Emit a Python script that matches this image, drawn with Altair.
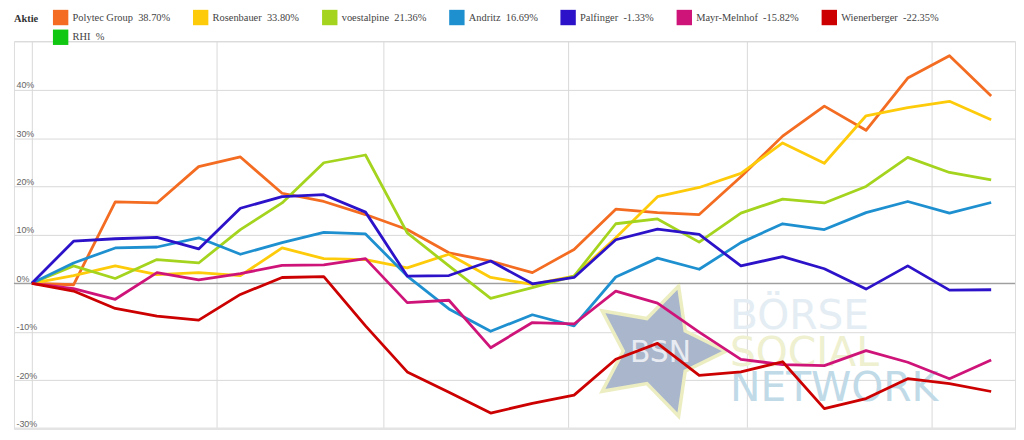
import altair as alt
import pandas as pd

# ---- data ----
dates = ["2017-01-01", "2017-01-08", "2017-01-15", "2017-01-22", "2017-01-29",
         "2017-02-05", "2017-02-12", "2017-02-19", "2017-02-26", "2017-03-05",
         "2017-03-12", "2017-03-19", "2017-03-26", "2017-04-02", "2017-04-09",
         "2017-04-16", "2017-04-23", "2017-04-30", "2017-05-07", "2017-05-14",
         "2017-05-21", "2017-05-28", "2017-06-04", "2017-06-11"]

names = ["Polytec Group", "Rosenbauer", "voestalpine", "Andritz",
         "Palfinger", "Mayr-Melnhof", "Wienerberger", "RHI"]
perf = ["38.70", "33.80", "21.36", "16.69", "-1.33", "-15.82", "-22.35", ""]
colors = ["#f36c21", "#fecb0a", "#a4d41e", "#1e90d0",
          "#2c12c8", "#cf1479", "#cc0000", "#11c711"]

polytec = [0, -0.3, 16.8, 16.6, 24.1, 26.1, 18.6, 16.9, 14.2, 11.1, 6.3, 4.6,
           2.2, 7.0, 15.3, 14.6, 14.2, 22.0, 30.4, 36.6, 31.6, 42.4, 47.0, 38.7]
rosenbauer = [0, 1.6, 3.6, 1.8, 2.2, 1.6, 7.3, 5.1, 4.9, 3.2, 6.0, 1.2,
              -0.2, 1.5, 9.4, 17.9, 19.8, 22.7, 29.0, 24.8, 34.6, 36.3, 37.6, 33.8]
voestalpine = [0, 3.6, 1.0, 4.9, 4.2, 11.1, 16.6, 24.9, 26.5, 10.4, 3.6, -3.1,
               -0.9, 1.5, 12.3, 13.3, 8.5, 14.5, 17.4, 16.6, 20.0, 26.0, 22.9, 21.36]
andritz = [0, 4.2, 7.3, 7.5, 9.4, 6.0, 8.4, 10.5, 10.2, 1.5, -5.3, -9.9,
           -6.5, -8.8, 1.3, 5.2, 2.9, 8.4, 12.3, 11.1, 14.6, 16.9, 14.5, 16.69]
palfinger = [0, 8.7, 9.2, 9.5, 7.1, 15.5, 17.9, 18.3, 14.7, 1.5, 1.6, 4.6,
             -0.1, 1.2, 9.0, 11.2, 10.1, 3.6, 5.5, 3.0, -1.2, 3.6, -1.4, -1.33]
mayr = [0, -1.1, -3.3, 2.2, 0.7, 2.0, 3.7, 3.8, 5.1, -4.0, -3.5, -13.3,
        -8.1, -8.4, -1.6, -4.1, -10.1, -15.7, -16.8, -17.0, -13.9, -16.3, -19.7, -15.82]
wienerberger = [0, -1.6, -5.2, -6.8, -7.6, -2.3, 1.2, 1.4, -8.8, -18.3, -22.5, -26.8,
                -24.8, -23.1, -15.7, -12.4, -19.0, -18.3, -16.2, -25.9, -23.8, -19.7, -20.7, -22.35]

series = [polytec, rosenbauer, voestalpine, andritz, palfinger, mayr, wienerberger, []]

y_ticks = [-30, -20, -10, 0, 10, 20, 30, 40, 50]

# ---- build tables ----
labels = [f"{n}\u00a0 {p}%" for n, p in zip(names, perf)]
rows = []
for lab, vals in zip(labels, series):
    for d, v in zip(dates, vals):
        rows.append({"date": d, "value": v, "name": lab})
df = pd.DataFrame(rows)
legend_df = pd.DataFrame({"name": labels})

W, H = 1008, 390

x_enc = alt.X(
    "date:T",
    scale=alt.Scale(type="utc", domain=[
        alt.DateTime(year=2016, month=12, date=29, utc=True),
        alt.DateTime(year=2017, month=6, date=15, utc=True)]),
    axis=alt.Axis(title=None, labels=False, ticks=False, grid=True,
                  gridColor="#d9d9d9", gridWidth=1,
                  tickCount={"interval": "month", "step": 1},
                  domainColor="#e4e4e4", domainWidth=3),
)
y_enc = alt.Y(
    "value:Q",
    scale=alt.Scale(domain=[-30, 50], nice=False, zero=False),
    axis=alt.Axis(title=None, values=y_ticks,
                  labelExpr="datum.value >= 50 ? '' : datum.value + '%'",
                  labelAlign="left", labelBaseline="alphabetic",
                  labelPadding=-2, labelOffset=-2, ticks=False, tickSize=0,
                  domain=False, grid=True, gridColor="#d9d9d9", gridWidth=1,
                  labelFont="Liberation Sans", labelFontSize=9,
                  labelColor="#666666"),
)

# line colours: only the series that have values (keeps this scale distinct from the legend's)
lines = alt.Chart(df).mark_line(strokeWidth=2.8, strokeJoin="round").encode(
    x=x_enc, y=y_enc,
    stroke=alt.Stroke("name:N", scale=alt.Scale(domain=labels[:7], range=colors[:7]),
                      legend=None),
    order="date:T")

legend_layer = alt.Chart(legend_df).transform_filter("false").mark_square(filled=True).encode(
    color=alt.Color(
        "name:N",
        scale=alt.Scale(domain=labels, range=colors),
        legend=alt.Legend(
            title=None, orient="none", legendX=39, legendY=-32,
            direction="horizontal", columns=7,
            labelFont="Liberation Serif", labelFontSize=10.5, labelColor="#444444",
            symbolType="square", symbolSize=240, symbolStrokeWidth=0,
            symbolOpacity=1, columnPadding=22, rowPadding=4, labelOffset=4,
            padding=0, labelLimit=0)))

zero = alt.Chart(pd.DataFrame({"z": [0]})).mark_rule(color="#8a8a8a", strokeWidth=1).encode(
    y=alt.Y("z:Q"))

one = pd.DataFrame({"k": [1]})
legend_title = alt.Chart(one).mark_text(
    text="Aktie", font="Liberation Serif", fontSize=10.5, fontWeight="bold",
    color="#333333", align="left", baseline="middle").encode(
    x=alt.value(0), y=alt.value(-22))

# ---- watermark ----
star_path = ("M1,0 L0.4045,0.294 L0.309,0.951 L-0.1545,0.4755 L-0.809,0.588 "
             "L-0.5,0 L-0.809,-0.588 L-0.1545,-0.4755 L0.309,-0.951 L0.4045,-0.294 Z")
star = alt.Chart(one).mark_point(
    shape=star_path, size=19000, filled=True, color="#a9b6cc",
    stroke="#eceec2", strokeWidth=3.5, opacity=1).encode(
    x=alt.value(648), y=alt.value(312))
bsn = alt.Chart(one).mark_text(
    text="BSN", font="DejaVu Sans", fontSize=30, color="#f4f5f8",
    opacity=0.85, align="center", baseline="alphabetic").encode(
    x=alt.value(651), y=alt.value(323))
wm_font = dict(font="DejaVu Sans", fontSize=41, align="left", baseline="alphabetic")
w1 = alt.Chart(one).mark_text(text="BÖRSE", color="#e4edf3", **wm_font).encode(
    x=alt.value(721), y=alt.value(290))
w2 = alt.Chart(one).mark_text(text="SOCIAL", color="#eef0cf", **wm_font).encode(
    x=alt.value(721), y=alt.value(327))
w3 = alt.Chart(one).mark_text(text="NETWORK", color="#c0dae8", **wm_font).encode(
    x=alt.value(721), y=alt.value(362))

chart = alt.layer(star, bsn, w1, w2, w3, zero, lines, legend_layer, legend_title).properties(
    width=W, height=H,
    padding={"left": 5, "top": 0, "right": 0, "bottom": 0},
).configure_view(stroke=None).configure(background="white")

chart.save("out.html", embed_options={"renderer": "svg", "actions": False})
